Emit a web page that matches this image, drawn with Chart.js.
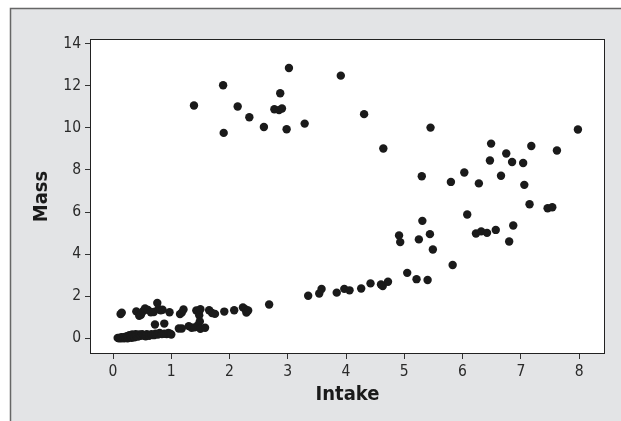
<!DOCTYPE html>
<html>
<head>
<meta charset="utf-8">
<script src="https://cdn.jsdelivr.net/npm/chart.js@4/dist/chart.umd.min.js"></script>
<style>
  html, body { margin: 0; padding: 0; background: #ffffff; }
  canvas { display: block; }
</style>
</head>
<body>
<canvas id="c" width="621" height="421"></canvas>
<script>
// Intake / Mass observations (paired by index)
const intake = [
  // high-mass group
  1.39, 1.89, 1.90, 2.14, 2.34, 2.59, 2.77, 2.85, 2.90, 2.87, 2.98, 3.02, 3.29, 3.91, 4.31, 4.64, 5.45, 7.98,
  // upper-right group
  6.49, 7.18, 7.62, 6.75, 6.47, 6.85, 7.04, 5.30, 6.03, 5.80, 6.28, 6.66, 7.06, 7.15, 7.46, 7.54,
  6.08, 5.31, 6.23, 6.32, 6.42, 6.57, 6.87, 6.80, 4.91, 4.93, 5.25, 5.44, 5.49, 5.83, 5.05, 5.21, 5.40,
  // rising middle band
  2.68, 3.35, 3.54, 3.58, 3.84, 3.97, 4.06, 4.26, 4.42, 4.60, 4.63, 4.72,
  // band near 1.3
  0.13, 0.15, 0.40, 0.45, 0.48, 0.52, 0.55, 0.60, 0.65, 0.70, 0.76, 0.78, 0.82, 0.85, 0.97,
  1.15, 1.18, 1.21, 1.43, 1.46, 1.48, 1.50, 1.65, 1.70, 1.75, 1.91, 2.08, 2.23, 2.27, 2.29, 2.32,
  // band near 0.5
  0.72, 0.88, 1.13, 1.18, 1.30, 1.35, 1.40, 1.46, 1.49, 1.50, 1.58,
  // low cluster near zero
  0.08, 0.10, 0.12, 0.14, 0.15, 0.17, 0.19, 0.20, 0.22, 0.24, 0.25, 0.27, 0.28, 0.30, 0.32, 0.33,
  0.35, 0.37, 0.39, 0.40, 0.43, 0.45, 0.48, 0.50, 0.53, 0.56, 0.58, 0.62, 0.66, 0.70, 0.73, 0.77,
  0.80, 0.84, 0.88, 0.92, 0.95, 0.98, 1.00
];
const mass = [
  11.06, 12.02, 9.76, 11.01, 10.50, 10.04, 10.88, 10.84, 10.92, 11.64, 9.93, 12.84, 10.20, 12.48, 10.65, 9.02, 10.01, 9.92,
  9.25, 9.14, 8.92, 8.78, 8.45, 8.38, 8.33, 7.70, 7.88, 7.43, 7.36, 7.72, 7.29, 6.37, 6.18, 6.23,
  5.88, 5.58, 4.98, 5.08, 5.01, 5.15, 5.36, 4.60, 4.89, 4.57, 4.70, 4.95, 4.22, 3.48, 3.11, 2.81, 2.77,
  1.61, 2.02, 2.13, 2.34, 2.17, 2.35, 2.28, 2.37, 2.61, 2.56, 2.48, 2.69,
  1.15, 1.22, 1.28, 1.07, 1.12, 1.30, 1.42, 1.35, 1.24, 1.25, 1.68, 1.40, 1.33, 1.36, 1.24,
  1.15, 1.22, 1.37, 1.32, 1.30, 1.10, 1.38, 1.33, 1.20, 1.16, 1.27, 1.33, 1.47, 1.38, 1.22, 1.32,
  0.66, 0.70, 0.47, 0.47, 0.58, 0.50, 0.52, 0.62, 0.80, 0.45, 0.50,
  0.02, 0.00, 0.03, 0.00, 0.05, 0.02, 0.00, 0.06, 0.03, 0.10, 0.00, 0.05, 0.15, 0.08, 0.02, 0.18,
  0.10, 0.05, 0.20, 0.12, 0.08, 0.18, 0.12, 0.20, 0.15, 0.10, 0.20, 0.12, 0.20, 0.15, 0.22, 0.18,
  0.25, 0.20, 0.22, 0.20, 0.25, 0.22, 0.18
];
const xTicks = [0, 1, 2, 3, 4, 5, 6, 7, 8];
const yTicks = [0, 2, 4, 6, 8, 10, 12, 14];

const points = intake.map((v, i) => ({ x: v, y: mass[i] }));

const FONT = '"DejaVu Sans Condensed", "DejaVu Sans", sans-serif';

// Gray panel, white plot area and its frame
const framePlugin = {
  id: 'frame',
  beforeDraw(chart) {
    const ctx = chart.ctx;
    const a = chart.chartArea;
    ctx.save();
    ctx.fillStyle = '#ffffff';
    ctx.fillRect(0, 0, chart.width, chart.height);
    ctx.fillStyle = '#e3e4e6';
    ctx.fillRect(10, 8, chart.width - 10, chart.height - 8);
    ctx.strokeStyle = '#666666';
    ctx.lineWidth = 1.5;
    ctx.beginPath();
    ctx.moveTo(10.5, chart.height);
    ctx.lineTo(10.5, 8.5);
    ctx.lineTo(chart.width, 8.5);
    ctx.stroke();
    ctx.fillStyle = '#ffffff';
    ctx.fillRect(a.left, a.top, a.right - a.left, a.bottom - a.top);
    ctx.restore();
  },
  afterDraw(chart) {
    const ctx = chart.ctx;
    const a = chart.chartArea;
    ctx.save();
    ctx.strokeStyle = '#222222';
    ctx.lineWidth = 1;
    ctx.strokeRect(a.left + 0.5, a.top + 0.5, a.right - a.left - 1, a.bottom - a.top - 1);
    ctx.restore();
  }
};

new Chart(document.getElementById('c'), {
  type: 'scatter',
  data: {
    datasets: [{
      data: points,
      backgroundColor: '#1a1a1a',
      borderColor: '#1a1a1a',
      borderWidth: 0,
      pointRadius: 4.2,
      pointHoverRadius: 4.2
    }]
  },
  options: {
    responsive: false,
    animation: false,
    events: [],
    layout: { padding: { top: 39, right: 16, left: 0, bottom: 0 } },
    plugins: { legend: { display: false }, tooltip: { enabled: false } },
    scales: {
      x: {
        type: 'linear',
        min: -0.395,
        max: 8.445,
        afterFit(scale) { scale.height = 67; },
        afterBuildTicks(scale) { scale.ticks = xTicks.map(v => ({ value: v })); },
        border: { display: false },
        grid: { drawOnChartArea: false, drawTicks: true, tickLength: 5, color: '#333333' },
        ticks: { color: '#2a2a2a', padding: 4, font: { family: FONT, size: 15.5 }, maxRotation: 0 },
        title: {
          display: true, text: 'Intake', color: '#1a1a1a',
          font: { family: FONT, size: 20, weight: 'bold' },
          padding: { top: 0, bottom: 14 }
        }
      },
      y: {
        type: 'linear',
        min: -0.745,
        max: 14.22,
        afterFit(scale) { scale.width = 90; },
        afterBuildTicks(scale) { scale.ticks = yTicks.map(v => ({ value: v })); },
        border: { display: false },
        grid: { drawOnChartArea: false, drawTicks: true, tickLength: 5, color: '#333333' },
        ticks: { color: '#2a2a2a', padding: 4, font: { family: FONT, size: 15.5 } },
        title: {
          display: true, text: 'Mass', color: '#1a1a1a',
          font: { family: FONT, size: 20, weight: 'bold' },
          padding: { top: 30, bottom: 0 }
        }
      }
    }
  },
  plugins: [framePlugin]
});
</script>
</body>
</html>
